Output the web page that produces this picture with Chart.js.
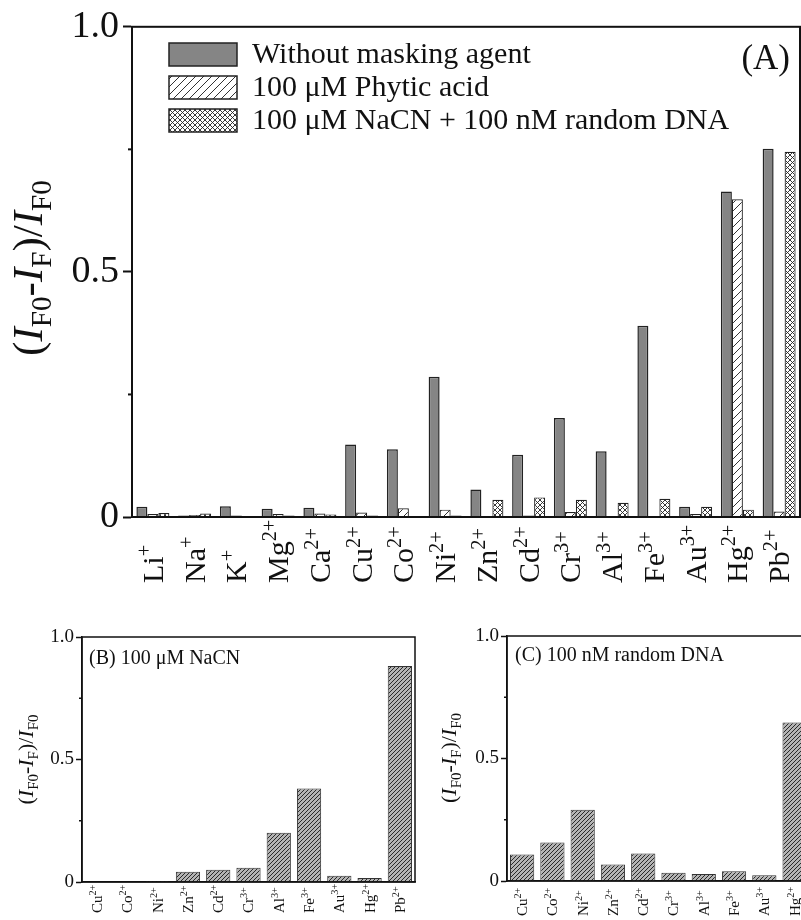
<!DOCTYPE html>
<html><head><meta charset="utf-8">
<script src="https://cdn.jsdelivr.net/npm/chart.js@4.4.0/dist/chart.umd.min.js"></script>
<style>
html,body{margin:0;padding:0;background:#fff;overflow:hidden;width:801px;height:920px;position:relative;}
.box{position:absolute;}
canvas{display:block;}
</style></head><body>
<div class="box" style="left:0;top:0"><canvas id="cA" width="801" height="590"></canvas></div>
<div class="box" style="left:0;top:590px"><canvas id="cB" width="430" height="330"></canvas></div>
<div class="box" style="left:430px;top:590px"><canvas id="cC" width="430" height="330"></canvas></div>
<script>
// ---------- data ----------
const ionsA = ['Li','Na','K','Mg','Ca','Cu','Co','Ni','Zn','Cd','Cr','Al','Fe','Au','Hg','Pb'];
const chargesA = ['+','+','+','2+','2+','2+','2+','2+','2+','2+','3+','3+','3+','3+','2+','2+'];
const withoutMasking = [0.021,0.003,0.022,0.017,0.019,0.148,0.138,0.286,0.056,0.127,0.202,0.134,0.390,0.021,0.664,0.751];
const phyticAcid     = [0.006,0.004,0.003,0.006,0.007,0.009,0.018,0.015,0,0.003,0.010,0,0,0.006,0.648,0.011];
const nacnPlusDna    = [0.008,0.007,0.002,0.003,0.005,0.003,0,0.003,0.035,0.040,0.035,0.029,0.037,0.021,0.015,0.745];

const ionsBC = ['Cu','Co','Ni','Zn','Cd','Cr','Al','Fe','Au','Hg','Pb'];
const chargesBC = ['2+','2+','2+','2+','2+','3+','3+','3+','3+','2+','2+'];
const nacnOnly = [0,0,0.004,0.042,0.050,0.058,0.201,0.382,0.026,0.016,0.882];
const dnaOnly  = [0.108,0.157,0.291,0.067,0.112,0.034,0.029,0.040,0.023,0.647,null];

const seriesNamesA = ['Without masking agent','100 \u03bcM Phytic acid','100 \u03bcM NaCN + 100 nM random DNA'];
const panelB = '(B) 100 \u03bcM NaCN';
const panelC = '(C) 100 nM random DNA';
const yTickValues = [0, 0.5, 1];
const yTickLabels = ['0', '0.5', '1.0'];
const minorTickValues = [0.25, 0.75];
const yTitle = [{t:'('},{t:'I',i:1},{t:'F0',sub:1},{t:'-'},{t:'I',i:1},{t:'F',sub:1},{t:')/'},{t:'I',i:1},{t:'F0',sub:1}];

// ---------- helpers ----------
const SERIF = '"Liberation Serif", "Times New Roman", serif';
function segFont(s, size){ const fs=(s.sub||s.sup)?size*0.68:size; return (s.i?'italic ':'')+fs+'px '+SERIF; }
function measureRich(ctx, segs, size){ let w=0; for(const s of segs){ ctx.font=segFont(s,size); w+=ctx.measureText(s.t).width; } return w; }
function drawRich(ctx, segs, x, y, size){
  let cx=x;
  for(const s of segs){
    ctx.font=segFont(s,size);
    const dy = s.sub ? size*0.22 : (s.sup ? -size*0.40 : 0);
    ctx.fillText(s.t, cx, y+dy);
    cx += ctx.measureText(s.t).width;
  }
  return cx-x;
}
function makePattern(size, bg, color, lw, dirs){
  const c=document.createElement('canvas'); c.width=c.height=size;
  const g=c.getContext('2d');
  if(bg){ g.fillStyle=bg; g.fillRect(0,0,size,size); }
  g.strokeStyle=color; g.lineWidth=lw;
  for(const d of dirs){
    g.beginPath();
    if(d==='/'){ g.moveTo(-1,size+1); g.lineTo(size+1,-1); g.moveTo(-2,2); g.lineTo(2,-2); g.moveTo(size-2,size+2); g.lineTo(size+2,size-2); }
    else { g.moveTo(-1,-1); g.lineTo(size+1,size+1); g.moveTo(size-2,-2); g.lineTo(size+2,2); g.moveTo(-2,size-2); g.lineTo(2,size+2); }
    g.stroke();
  }
  return g.createPattern(c,'repeat');
}

const decoPlugin = {
  id:'deco',
  afterDraw(chart, args, o){
    const {ctx, chartArea:ca} = chart;
    const xs = chart.scales.x, ys = chart.scales.y;
    ctx.save();
    // frame
    ctx.strokeStyle='#111'; ctx.lineWidth=o.frameW;
    ctx.strokeRect(ca.left, ca.top, ca.right-ca.left, ca.bottom-ca.top);
    // minor ticks
    ctx.lineWidth=o.minorW;
    for(const v of minorTickValues){
      const py=ys.getPixelForValue(v);
      ctx.beginPath(); ctx.moveTo(ca.left-o.minorLen, py); ctx.lineTo(ca.left, py); ctx.stroke();
    }
    // x labels (rotated, with superscript charge)
    ctx.fillStyle='#111'; ctx.textAlign='left'; ctx.textBaseline='alphabetic';
    chart.data.labels.forEach((lab,i)=>{
      const px=xs.getPixelForValue(i);
      ctx.save();
      ctx.translate(px + o.xlSize*0.33, o.xlStart);
      ctx.rotate(-Math.PI/2);
      drawRich(ctx, [{t:lab},{t:o.charges[i],sup:1}], 0, 0, o.xlSize);
      ctx.restore();
    });
    // y title
    const w = measureRich(ctx, yTitle, o.ytSize);
    ctx.save();
    ctx.translate(o.ytX, o.ytY);
    ctx.rotate(-Math.PI/2);
    drawRich(ctx, yTitle, -w/2, 0, o.ytSize);
    ctx.restore();
    // panel text
    if(o.panel){
      ctx.font=o.panel.size+'px '+SERIF;
      ctx.textAlign=o.panel.align; ctx.textBaseline='alphabetic';
      ctx.fillText(o.panel.text, o.panel.x, o.panel.y);
    }
    // legend
    if(o.legend){
      const L=o.legend;
      chart.data.datasets.forEach((ds,i)=>{
        const by=L.y+i*L.step;
        ctx.fillStyle=ds.backgroundColor; ctx.fillRect(L.x, by, L.w, L.h);
        ctx.strokeStyle='#222'; ctx.lineWidth=1.5; ctx.strokeRect(L.x, by, L.w, L.h);
        ctx.fillStyle='#111'; ctx.font=L.size+'px '+SERIF; ctx.textAlign='left'; ctx.textBaseline='middle';
        ctx.fillText(ds.label, L.tx, by+L.h/2+1);
      });
    }
    ctx.restore();
  }
};

function makeOptions(c){
  return {
    responsive:false, animation:false, events:[],
    layout:{padding:{top:c.top,right:c.right,left:0,bottom:0}},
    plugins:{legend:{display:false}, tooltip:{enabled:false}, deco:c.deco},
    scales:{
      x:{ grid:{display:false,drawTicks:false}, border:{display:true,color:'#111',width:c.axisW},
          ticks:{display:false}, afterFit:s=>{s.height=c.xH;} },
      y:{ min:0, max:1, afterFit:s=>{s.width=c.yW;},
          border:{display:true,color:'#111',width:c.axisW},
          grid:{display:true,drawOnChartArea:false,drawTicks:true,tickLength:c.tickLen,tickColor:'#111',tickWidth:c.axisW},
          ticks:{stepSize:0.5,padding:c.tickPad,color:'#111',font:{family:SERIF,size:c.tickSize},
                 callback:v=>{const k=yTickValues.indexOf(v); return k<0?'':yTickLabels[k];}} }
    }
  };
}

// ---------- patterns ----------
const grayFill = '#858585';
const hatchA = makePattern(8,'#ffffff','#333',1,['/']);
const crossA = makePattern(5,'#ffffff','#222',0.9,['/','\\']);
const hatchBC = makePattern(4,'#b4b4b4','#2a2a2a',1,['/']);

// ---------- chart A ----------
new Chart(document.getElementById('cA'),{
  type:'bar',
  data:{labels:ionsA, datasets:[
    {label:seriesNamesA[0], data:withoutMasking, backgroundColor:grayFill, borderColor:'#222', borderWidth:1.5},
    {label:seriesNamesA[1], data:phyticAcid, backgroundColor:hatchA, borderColor:'#222', borderWidth:1.2},
    {label:seriesNamesA[2], data:nacnPlusDna, backgroundColor:crossA, borderColor:'#222', borderWidth:1.2}
  ].map(d=>Object.assign(d,{categoryPercentage:0.79,barPercentage:1.0}))},
  options:makeOptions({top:24,right:1,xH:590-517,yW:132,axisW:2,tickLen:9,tickPad:4,tickSize:38,
    deco:{frameW:2,minorW:2,minorLen:4,charges:chargesA,xlSize:30,xlStart:583,
      ytSize:43,ytX:42,ytY:268,
      panel:{text:'(A)',x:790,y:69,align:'right',size:35},
      legend:{x:169,y:43,step:33,w:68,h:23,tx:252,size:30}}}),
  plugins:[decoPlugin]
});

// ---------- chart B ----------
new Chart(document.getElementById('cB'),{
  type:'bar',
  data:{labels:ionsBC, datasets:[
    {label:'100 \u03bcM NaCN', data:nacnOnly, backgroundColor:hatchBC, borderColor:'#333', borderWidth:1, categoryPercentage:0.8, barPercentage:1.0}
  ]},
  options:makeOptions({top:47,right:15,xH:330-292,yW:82,axisW:1.5,tickLen:6,tickPad:2,tickSize:19,
    deco:{frameW:1.5,minorW:1.5,minorLen:3,charges:chargesBC,xlSize:15,xlStart:323,
      ytSize:22,ytX:33,ytY:169.5,
      panel:{text:panelB,x:89,y:74,align:'left',size:20}}}),
  plugins:[decoPlugin]
});

// ---------- chart C ----------
new Chart(document.getElementById('cC'),{
  type:'bar',
  data:{labels:ionsBC, datasets:[
    {label:'100 nM random DNA', data:dnaOnly, backgroundColor:hatchBC, borderColor:'#333', borderWidth:1, categoryPercentage:0.8, barPercentage:1.0}
  ]},
  options:makeOptions({top:46,right:20,xH:330-291,yW:77,axisW:1.5,tickLen:6,tickPad:2,tickSize:19,
    deco:{frameW:1.5,minorW:1.5,minorLen:3,charges:chargesBC,xlSize:15,xlStart:326,
      ytSize:22,ytX:26,ytY:168,
      panel:{text:panelC,x:85,y:71,align:'left',size:20}}}),
  plugins:[decoPlugin]
});
</script>
</body></html>
